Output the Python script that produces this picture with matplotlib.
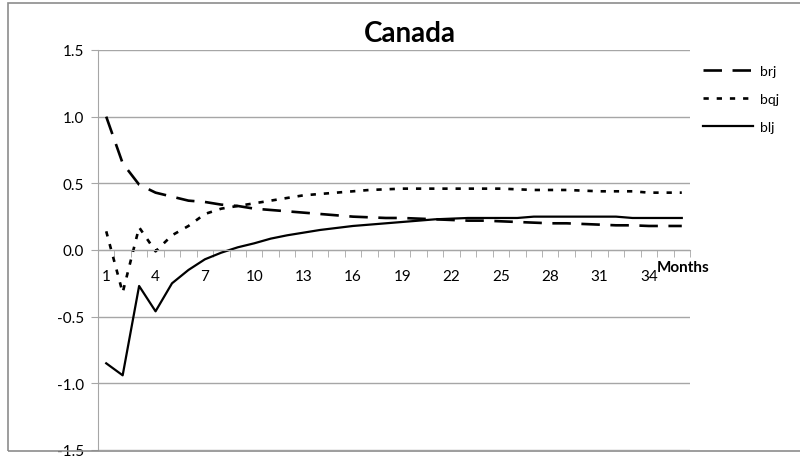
import numpy as np
import matplotlib
matplotlib.use("Agg")
import matplotlib.pyplot as plt
from matplotlib.patches import Rectangle
from matplotlib.ticker import FuncFormatter

# ------------------------------------------------------
# DATA
# ------------------------------------------------------

months = list(range(1, 37))
tick_months = list(range(1, 37, 3))

brj = [1.00, 0.65, 0.49, 0.43, 0.40, 0.37, 0.36, 0.34, 0.33, 0.31,
       0.30, 0.29, 0.28, 0.27, 0.26, 0.25, 0.245, 0.24, 0.24, 0.235,
       0.23, 0.225, 0.22, 0.22, 0.215, 0.21, 0.205, 0.20, 0.20, 0.195,
       0.19, 0.185, 0.185, 0.18, 0.18, 0.18]

bqj = [0.14, -0.32, 0.17, -0.01, 0.11, 0.18, 0.27, 0.31, 0.33, 0.35,
       0.37, 0.39, 0.41, 0.42, 0.43, 0.44, 0.45, 0.455, 0.46, 0.46,
       0.46, 0.46, 0.46, 0.46, 0.46, 0.455, 0.45, 0.45, 0.45, 0.445,
       0.44, 0.44, 0.44, 0.43, 0.43, 0.43]

blj = [-0.85, -0.94, -0.27, -0.46, -0.25, -0.15, -0.07, -0.02, 0.02, 0.05,
       0.085, 0.11, 0.13, 0.15, 0.165, 0.18, 0.19, 0.20, 0.21, 0.22,
       0.23, 0.235, 0.24, 0.24, 0.24, 0.24, 0.25, 0.25, 0.25, 0.25,
       0.25, 0.25, 0.24, 0.24, 0.24, 0.24]

y_ticks = [-1.5, -1.0, -0.5, 0.0, 0.5, 1.0, 1.5]

# ------------------------------------------------------
# FIGURE
# ------------------------------------------------------

plt.rcParams['font.family'] = ['Lato', 'DejaVu Sans']
grid_col = '#a6a6a6'

fig = plt.figure(figsize=(8, 4.6), dpi=100)
ax = fig.add_axes([0.1225, 0.0196, 0.74, 0.8696])

# chart area border
fig.patches.append(Rectangle((0.01, 0.0174), 1.2, 0.974, transform=fig.transFigure,
                             fill=False, edgecolor='#8c8c8c', lw=1.2))

ax.plot(months, brj, color='black', lw=1.9, dashes=(7, 4), label='brj')
ax.plot(months, bqj, color='black', lw=1.9, dashes=(2, 3), label='bqj')
ax.plot(months, blj, color='black', lw=1.6, label='blj')

ax.set_xlim(0.5, 36.5)
ax.set_ylim(-1.5, 1.5)

# y axis
ax.set_yticks(y_ticks)
ax.yaxis.set_major_formatter(FuncFormatter(lambda v, p: f"{v:.1f}".replace('\u2212', '-')))
ax.tick_params(axis='y', length=5, color=grid_col, labelsize=11, pad=5)
ax.grid(True, axis='y', color=grid_col, lw=1)

# x axis through zero, ticks between categories, labels every 3 months
ax.spines['bottom'].set_position(('data', 0))
ax.spines['bottom'].set_color(grid_col)
ax.spines['left'].set_color(grid_col)
ax.spines['top'].set_visible(False)
ax.spines['right'].set_visible(False)
ax.set_xticks(tick_months)
ax.set_xticks(np.arange(0.5, 37, 1.0), minor=True)
ax.tick_params(axis='x', which='major', length=0, labelsize=11, pad=14)
ax.tick_params(axis='x', which='minor', length=5, color=grid_col)

ax.text(34.45, -0.13, 'Months', fontsize=11, fontweight='bold', ha='left', va='center')

fig.text(0.5125, 0.926, 'Canada', fontsize=20, fontweight='bold', ha='center', va='center')

ax.legend(loc='upper left', bbox_to_anchor=(0.872, 0.868), bbox_transform=fig.transFigure,
          frameon=False, fontsize=10, handlelength=3.6, handletextpad=0.5,
          labelspacing=1.15, borderaxespad=0)

fig.savefig('out.png', dpi=100)
